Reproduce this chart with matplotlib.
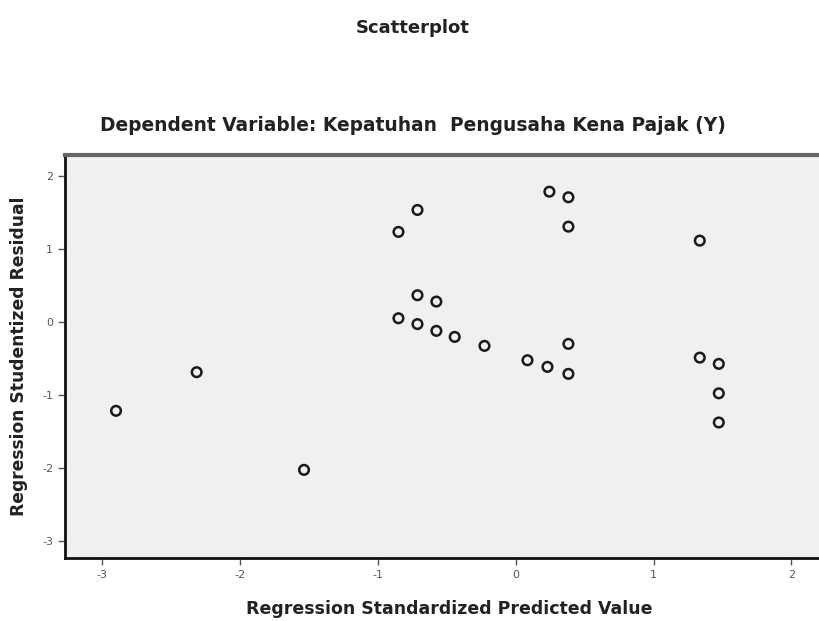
import matplotlib
matplotlib.use("Agg")
import matplotlib.pyplot as plt
from matplotlib.ticker import FuncFormatter

pred = [-0.713, -0.851, -0.713, -0.576, -0.851, -0.713, -0.576, -0.443,
        -2.315, -2.90, -1.536,
        0.244, 0.382, 0.382, 1.335, -0.227, 0.085, 0.23, 0.382, 0.382,
        1.335, 1.473, 1.473, 1.473]
resid = [1.536, 1.235, 0.366, 0.279, 0.05, -0.03, -0.123, -0.206,
         -0.69, -1.22, -2.03,
         1.787, 1.71, 1.307, 1.115, -0.329, -0.526, -0.617, -0.302, -0.713,
         -0.49, -0.576, -0.98, -1.38]
xticks = [-3, -2, -1, 0, 1, 2]
yticks = [-3, -2, -1, 0, 1, 2]

plt.rcParams['font.family'] = ['DejaVu Sans']
fig = plt.figure(figsize=(8.19, 6.21), dpi=100)
ax = fig.add_axes([0.0794, 0.1014, 0.9206, 0.649])
ax.set_facecolor('#f0f0f0')
ax.scatter(pred, resid, s=48, facecolors='none', edgecolors='#1a1a1a', linewidths=1.8, zorder=3)
ax.set_xlim(-3.27, 2.2)
ax.set_ylim(-3.24, 2.29)
ax.set_xticks(xticks)
ax.set_yticks(yticks)
fmt = FuncFormatter(lambda v, p: '%d' % v)
ax.xaxis.set_major_formatter(fmt)
ax.yaxis.set_major_formatter(fmt)
ax.tick_params(direction='out', length=5, width=1, colors='#555555', labelsize=8, labelcolor='#555555')
ax.spines['left'].set_linewidth(2)
ax.spines['left'].set_color('#111111')
ax.spines['bottom'].set_linewidth(2)
ax.spines['bottom'].set_color('#111111')
ax.spines['top'].set_linewidth(3)
ax.spines['top'].set_color('#666666')
ax.spines['right'].set_visible(False)
ax.set_xlabel('Regression Standardized Predicted Value', fontsize=12.5, fontweight='bold', color='#222222', labelpad=12)
ax.xaxis.set_label_coords(0.51, -0.105)
ax.set_ylabel('Regression Studentized Residual', fontsize=12.3, fontweight='bold', color='#222222', labelpad=10)
fig.text(0.504, 0.955, 'Scatterplot', ha='center', va='center', fontsize=13, fontweight='bold', color='#222222')
fig.text(0.504, 0.798, 'Dependent Variable: Kepatuhan  Pengusaha Kena Pajak (Y)', ha='center', va='center',
         fontsize=13.4, fontweight='bold', color='#222222')
fig.savefig('out.png', dpi=100)
